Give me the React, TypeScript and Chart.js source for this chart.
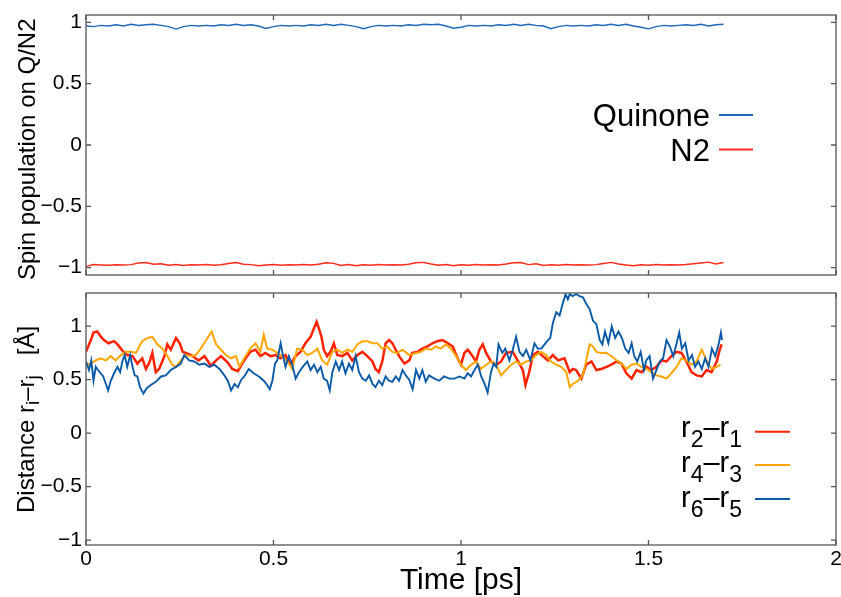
import React, { useEffect, useRef } from 'react';
import { Chart, registerables } from 'chart.js';
Chart.register(...registerables);

const FONT = '"Liberation Sans", Arial, Helvetica, sans-serif';

const xTicks = [0, 0.5, 1, 1.5, 2];
const spinTicks = [-1, -0.5, 0, 0.5, 1];
const distTicks = [-1, -0.5, 0, 0.5, 1];

// Top panel: spin population
const spinTime = [0, 0.02, 0.04, 0.06, 0.08, 0.1, 0.12, 0.14, 0.16, 0.18, 0.2, 0.22, 0.24, 0.26, 0.28, 0.3, 0.32, 0.34, 0.36, 0.38,
  0.4, 0.42, 0.44, 0.46, 0.48, 0.5, 0.52, 0.54, 0.56, 0.58, 0.6, 0.62, 0.64, 0.66, 0.68, 0.7, 0.72, 0.74, 0.76, 0.78,
  0.8, 0.82, 0.84, 0.86, 0.88, 0.9, 0.92, 0.94, 0.96, 0.98, 1.0, 1.02, 1.04, 1.06, 1.08, 1.1, 1.12, 1.14, 1.16, 1.18,
  1.2, 1.22, 1.24, 1.26, 1.28, 1.3, 1.32, 1.34, 1.36, 1.38, 1.4, 1.42, 1.44, 1.46, 1.48, 1.5, 1.52, 1.54, 1.56, 1.58,
  1.6, 1.62, 1.64, 1.66, 1.68, 1.7];
const quinone = [0.97, 0.965, 0.975, 0.97, 0.98, 0.97, 0.985, 0.975, 0.98, 0.985, 0.975, 0.965, 0.945, 0.965, 0.975, 0.97, 0.975, 0.97, 0.98, 0.975,
  0.985, 0.975, 0.98, 0.97, 0.95, 0.965, 0.975, 0.97, 0.975, 0.97, 0.98, 0.975, 0.985, 0.975, 0.985, 0.975, 0.965, 0.948, 0.965, 0.975,
  0.97, 0.975, 0.97, 0.98, 0.975, 0.985, 0.98, 0.985, 0.97, 0.952, 0.96, 0.975, 0.97, 0.975, 0.97, 0.98, 0.975, 0.985, 0.975, 0.985,
  0.975, 0.97, 0.948, 0.965, 0.975, 0.97, 0.975, 0.97, 0.98, 0.975, 0.985, 0.975, 0.985, 0.97, 0.96, 0.947, 0.965, 0.975, 0.97, 0.975,
  0.98, 0.975, 0.985, 0.97, 0.98, 0.985];
const n2 = [-0.99, -0.975, -0.978, -0.98, -0.976, -0.979, -0.975, -0.962, -0.958, -0.972, -0.968, -0.98, -0.975, -0.982, -0.976, -0.979, -0.975, -0.98, -0.976, -0.966,
  -0.958, -0.972, -0.975, -0.985, -0.978, -0.975, -0.98, -0.976, -0.979, -0.975, -0.978, -0.972, -0.96, -0.965, -0.982, -0.975, -0.985, -0.976, -0.98, -0.975,
  -0.979, -0.976, -0.978, -0.972, -0.96, -0.957, -0.97, -0.98, -0.974, -0.984, -0.976, -0.98, -0.975, -0.979, -0.976, -0.978, -0.97, -0.96, -0.958, -0.975,
  -0.968, -0.982, -0.976, -0.98, -0.975, -0.979, -0.976, -0.978, -0.975, -0.966, -0.957, -0.97, -0.978, -0.984, -0.976, -0.98, -0.975, -0.979, -0.976, -0.978,
  -0.974, -0.968, -0.962, -0.955, -0.97, -0.958];

// Bottom panel: distances
const r21Time = [0, 0.013, 0.02, 0.03, 0.04, 0.048, 0.06, 0.075, 0.084, 0.093, 0.1, 0.11, 0.124, 0.137, 0.15, 0.16, 0.17, 0.177, 0.186, 0.195, 0.209, 0.217, 0.226, 0.24, 0.25, 0.258, 0.266, 0.28, 0.3, 0.316, 0.333, 0.347, 0.36, 0.378, 0.39, 0.405, 0.418, 0.43,
  0.438, 0.452, 0.465, 0.478, 0.492, 0.505, 0.518, 0.532, 0.545, 0.559, 0.572, 0.585, 0.599, 0.608, 0.615, 0.621, 0.628, 0.634, 0.643, 0.652, 0.661, 0.67, 0.683, 0.697, 0.71, 0.724, 0.737, 0.75, 0.764, 0.772, 0.781, 0.79, 0.799, 0.808, 0.817, 0.826, 0.835, 0.849,
  0.862, 0.87, 0.884, 0.897, 0.91, 0.924, 0.937, 0.951, 0.965, 0.978, 0.991, 1.0, 1.009, 1.018, 1.031, 1.04, 1.049, 1.058, 1.067, 1.08, 1.094, 1.107, 1.12, 1.138, 1.151, 1.165, 1.172, 1.181, 1.192, 1.205, 1.218, 1.232, 1.245, 1.259, 1.276,
  1.29, 1.298, 1.307, 1.321, 1.334, 1.348, 1.361, 1.374, 1.388, 1.401, 1.415, 1.428, 1.441, 1.455, 1.468, 1.481, 1.495, 1.508, 1.521, 1.535, 1.548, 1.561, 1.575, 1.588, 1.601, 1.615, 1.628, 1.642, 1.655, 1.668, 1.682, 1.69, 1.695];
const r21 = [0.76, 0.87, 0.94, 0.95, 0.9, 0.87, 0.84, 0.86, 0.83, 0.79, 0.76, 0.73, 0.72, 0.65, 0.7, 0.6, 0.67, 0.75, 0.57, 0.6, 0.72, 0.83, 0.78, 0.89, 0.84, 0.76, 0.75, 0.73, 0.68, 0.72, 0.63, 0.68, 0.72, 0.66, 0.6, 0.58, 0.66, 0.72,
  0.76, 0.78, 0.72, 0.75, 0.72, 0.73, 0.7, 0.73, 0.64, 0.72, 0.76, 0.84, 0.9, 0.98, 1.04, 0.98, 0.9, 0.78, 0.72, 0.76, 0.84, 0.73, 0.72, 0.75, 0.68, 0.73, 0.76, 0.72, 0.67, 0.6, 0.57, 0.67, 0.84, 0.87, 0.84, 0.78, 0.72, 0.65,
  0.68, 0.75, 0.76, 0.79, 0.81, 0.84, 0.86, 0.87, 0.84, 0.81, 0.7, 0.64, 0.75, 0.78, 0.72, 0.67, 0.78, 0.83, 0.75, 0.67, 0.64, 0.67, 0.75, 0.76, 0.68, 0.59, 0.45, 0.56, 0.73, 0.76, 0.72, 0.68, 0.73, 0.68, 0.7,
  0.57, 0.6, 0.59, 0.51, 0.64, 0.67, 0.59, 0.6, 0.62, 0.64, 0.67, 0.65, 0.56, 0.51, 0.59, 0.57, 0.62, 0.59, 0.62, 0.68, 0.67, 0.72, 0.76, 0.75, 0.67, 0.57, 0.54, 0.53, 0.59, 0.57, 0.67, 0.78, 0.83];

const r43Time = [0, 0.013, 0.026, 0.039, 0.053, 0.066, 0.079, 0.093, 0.106, 0.12, 0.133, 0.142, 0.15, 0.164, 0.177, 0.19, 0.204, 0.217, 0.23, 0.24, 0.253, 0.266, 0.28, 0.293, 0.306, 0.315, 0.324, 0.335, 0.347, 0.36, 0.373, 0.387, 0.4, 0.409, 0.422,
  0.438, 0.452, 0.465, 0.474, 0.483, 0.497, 0.51, 0.523, 0.537, 0.55, 0.563, 0.577, 0.59, 0.603, 0.617, 0.63, 0.643, 0.657, 0.67, 0.683, 0.697, 0.71, 0.724, 0.737, 0.75, 0.764, 0.777, 0.79, 0.803, 0.817, 0.83, 0.844,
  0.862, 0.88, 0.893, 0.906, 0.92, 0.933, 0.946, 0.96, 0.973, 0.987, 1.0, 1.013, 1.027, 1.04, 1.053, 1.067, 1.08, 1.094, 1.107, 1.12, 1.134, 1.147, 1.16, 1.174, 1.187, 1.2, 1.214, 1.227, 1.24, 1.254, 1.267, 1.281,
  1.29, 1.298, 1.312, 1.325, 1.334, 1.343, 1.352, 1.361, 1.374, 1.388, 1.401, 1.415, 1.428, 1.441, 1.455, 1.468, 1.481, 1.495, 1.508, 1.521, 1.535, 1.548, 1.561, 1.575, 1.588, 1.601, 1.615, 1.628, 1.642, 1.655, 1.668, 1.682, 1.692];
const r43 = [0.64, 0.65, 0.68, 0.7, 0.68, 0.72, 0.68, 0.73, 0.76, 0.76, 0.75, 0.81, 0.86, 0.89, 0.9, 0.83, 0.79, 0.72, 0.64, 0.62, 0.68, 0.73, 0.72, 0.73, 0.79, 0.84, 0.89, 0.95, 0.83, 0.78, 0.73, 0.7, 0.72, 0.62, 0.7,
  0.79, 0.84, 0.76, 0.92, 0.79, 0.78, 0.75, 0.72, 0.67, 0.6, 0.79, 0.78, 0.73, 0.75, 0.79, 0.68, 0.64, 0.76, 0.78, 0.75, 0.78, 0.76, 0.83, 0.86, 0.86, 0.84, 0.84, 0.79, 0.81, 0.76, 0.75, 0.78,
  0.73, 0.75, 0.76, 0.79, 0.78, 0.81, 0.79, 0.83, 0.79, 0.72, 0.64, 0.59, 0.64, 0.67, 0.6, 0.64, 0.67, 0.64, 0.54, 0.59, 0.64, 0.67, 0.64, 0.67, 0.68, 0.73, 0.76, 0.73, 0.67, 0.64, 0.62, 0.57,
  0.43, 0.46, 0.49, 0.54, 0.68, 0.83, 0.81, 0.76, 0.75, 0.75, 0.72, 0.68, 0.65, 0.6, 0.64, 0.65, 0.62, 0.6, 0.57, 0.54, 0.53, 0.51, 0.56, 0.62, 0.7, 0.68, 0.64, 0.67, 0.78, 0.68, 0.6, 0.62, 0.64];

const r65Time = [0, 0.008, 0.014, 0.02, 0.026, 0.032, 0.039, 0.046, 0.053, 0.059, 0.066, 0.075, 0.084, 0.091, 0.097, 0.103, 0.11, 0.118, 0.124, 0.13, 0.137, 0.144, 0.153, 0.162, 0.173, 0.186, 0.2, 0.213, 0.226, 0.24, 0.253, 0.262, 0.275, 0.289, 0.302, 0.316, 0.329, 0.342, 0.356, 0.369, 0.378, 0.387, 0.396, 0.405, 0.414, 0.422,
  0.434, 0.447, 0.461, 0.474, 0.483, 0.49, 0.497, 0.504, 0.51, 0.519, 0.525, 0.532, 0.541, 0.55, 0.559, 0.568, 0.578, 0.59, 0.599, 0.608, 0.617, 0.626, 0.634, 0.643, 0.65, 0.657, 0.666, 0.675, 0.683, 0.692, 0.701, 0.71, 0.719, 0.728, 0.737, 0.746, 0.755, 0.764, 0.772, 0.781, 0.79, 0.799, 0.808, 0.817, 0.826, 0.835, 0.844, 0.853,
  0.862, 0.871, 0.88, 0.889, 0.897, 0.906, 0.915, 0.929, 0.942, 0.955, 0.969, 0.982, 0.996, 1.009, 1.018, 1.027, 1.036, 1.045, 1.054, 1.063, 1.071, 1.08, 1.087, 1.094, 1.1, 1.11, 1.118, 1.129, 1.138, 1.147, 1.156, 1.165, 1.174, 1.185, 1.196, 1.205, 1.214, 1.223, 1.232, 1.238, 1.245, 1.254, 1.263, 1.272, 1.279,
  1.285, 1.29, 1.298, 1.307, 1.316, 1.325, 1.334, 1.343, 1.352, 1.361, 1.37, 1.377, 1.384, 1.393, 1.402, 1.411, 1.42, 1.429, 1.438, 1.447, 1.455, 1.462, 1.47, 1.479, 1.488, 1.494, 1.503, 1.512, 1.521, 1.53, 1.539, 1.548, 1.557, 1.566, 1.575, 1.582, 1.589, 1.598, 1.607, 1.616, 1.624, 1.633, 1.642, 1.651, 1.66, 1.669, 1.678, 1.687, 1.693, 1.696];
const r65 = [0.67, 0.59, 0.68, 0.49, 0.62, 0.59, 0.56, 0.53, 0.46, 0.4, 0.49, 0.56, 0.62, 0.57, 0.67, 0.73, 0.62, 0.73, 0.62, 0.54, 0.53, 0.43, 0.37, 0.42, 0.45, 0.48, 0.53, 0.54, 0.59, 0.62, 0.65, 0.73, 0.68, 0.67, 0.64, 0.65, 0.62, 0.64, 0.6, 0.54, 0.49, 0.4, 0.46, 0.43, 0.5, 0.53,
  0.6, 0.56, 0.53, 0.49, 0.45, 0.41, 0.49, 0.65, 0.68, 0.84, 0.73, 0.62, 0.72, 0.64, 0.51, 0.57, 0.62, 0.67, 0.59, 0.64, 0.57, 0.62, 0.51, 0.49, 0.4, 0.57, 0.67, 0.59, 0.67, 0.56, 0.65, 0.59, 0.72, 0.57, 0.51, 0.49, 0.54, 0.46, 0.43, 0.49, 0.45, 0.53, 0.49, 0.48, 0.53, 0.49, 0.59, 0.54,
  0.5, 0.41, 0.59, 0.51, 0.59, 0.48, 0.54, 0.51, 0.49, 0.53, 0.51, 0.51, 0.53, 0.51, 0.56, 0.53, 0.59, 0.64, 0.53, 0.46, 0.38, 0.57, 0.65, 0.62, 0.83, 0.75, 0.79, 0.68, 0.78, 0.9, 0.76, 0.72, 0.78, 0.68, 0.84, 0.79, 0.79, 0.83, 0.87, 0.89, 1.03, 1.13, 1.1, 1.22, 1.3,
  1.25, 1.3, 1.28, 1.3, 1.28, 1.27, 1.21, 1.16, 1.05, 1.02, 0.87, 0.83, 0.95, 0.84, 1.0, 0.89, 0.95, 0.89, 0.79, 0.75, 0.84, 0.72, 0.67, 0.76, 0.59, 0.68, 0.72, 0.51, 0.59, 0.67, 0.7, 0.87, 0.81, 0.72, 0.84, 0.94, 0.79, 0.84, 0.68, 0.73, 0.62, 0.67, 0.6, 0.7, 0.62, 0.79, 0.72, 0.83, 0.94, 0.87];

const COL_Q = '#1f68b8';
const COL_N2 = '#ff2a1a';
const COL_R21 = '#ff2200';
const COL_R43 = '#ffa500';
const COL_R65 = '#0b5aa8';

type Seg = { t: string; s: number; dy: number };

function richWidth(ctx: CanvasRenderingContext2D, segs: Seg[]) {
  let w = 0;
  for (const g of segs) {
    ctx.font = `${g.s}px ${FONT}`;
    w += ctx.measureText(g.t).width;
  }
  return w;
}
function drawRich(ctx: CanvasRenderingContext2D, segs: Seg[], x: number, y: number) {
  let cx = x;
  ctx.textBaseline = 'alphabetic';
  ctx.textAlign = 'left';
  for (const g of segs) {
    ctx.font = `${g.s}px ${FONT}`;
    ctx.fillText(g.t, cx, y + g.dy);
    cx += ctx.measureText(g.t).width;
  }
}

const fmt = (v: any) => {
  const n = Number(v);
  return n < 0 ? '\u2212' + String(Math.abs(n)) : String(n);
};

function framePlugin(yTicks: number[]) {
  return {
    id: 'frame',
    afterDraw(chart: any) {
      const { ctx, chartArea: a, scales } = chart;
      ctx.save();
      ctx.strokeStyle = '#555';
      ctx.lineWidth = 1.3;
      ctx.strokeRect(a.left, a.top, a.right - a.left, a.bottom - a.top);
      ctx.beginPath();
      for (const v of xTicks) {
        const px = scales.x.getPixelForValue(v);
        ctx.moveTo(px, a.bottom); ctx.lineTo(px, a.bottom - 5);
        ctx.moveTo(px, a.top); ctx.lineTo(px, a.top + 5);
      }
      for (const v of yTicks) {
        const py = scales.y.getPixelForValue(v);
        ctx.moveTo(a.left, py); ctx.lineTo(a.left + 5, py);
        ctx.moveTo(a.right, py); ctx.lineTo(a.right - 5, py);
      }
      ctx.stroke();
      ctx.restore();
    },
  };
}

function baseOptions(yMin: number, yMax: number, yTicks: number[], padTop: number, xHeight: number, showX: boolean) {
  return {
    responsive: false,
    animation: false,
    devicePixelRatio: 1,
    layout: { padding: { left: 0, right: 5, top: padTop, bottom: 0 } },
    plugins: { legend: { display: false }, tooltip: { enabled: false } },
    elements: { point: { radius: 0 }, line: { tension: 0 } },
    scales: {
      x: {
        type: 'linear',
        min: 0,
        max: 2,
        grid: { display: false, drawTicks: false },
        border: { display: false },
        ticks: { display: showX, padding: 2, autoSkip: false, maxRotation: 0, color: '#000', font: { size: 21, family: FONT }, callback: fmt },
        afterBuildTicks: (s: any) => { s.ticks = xTicks.map((v) => ({ value: v })); },
        afterFit: (s: any) => { s.height = xHeight; s.paddingLeft = 0; s.paddingRight = 0; },
      },
      y: {
        type: 'linear',
        min: yMin,
        max: yMax,
        grid: { display: false, drawTicks: false },
        border: { display: false },
        ticks: { padding: 4, autoSkip: false, color: '#000', font: { size: 21, family: FONT }, callback: fmt },
        afterBuildTicks: (s: any) => { s.ticks = yTicks.map((v) => ({ value: v })); },
        afterFit: (s: any) => { s.width = 86; s.paddingTop = 0; s.paddingBottom = 0; },
      },
    },
  };
}

export default function App() {
  const topRef = useRef<HTMLCanvasElement>(null);
  const botRef = useRef<HTMLCanvasElement>(null);

  useEffect(() => {
    const topDecor = {
      id: 'topDecor',
      afterDraw(chart: any) {
        const ctx = chart.ctx as CanvasRenderingContext2D;
        ctx.save();
        ctx.fillStyle = '#000';
        ctx.translate(35, 280);
        ctx.rotate(-Math.PI / 2);
        drawRich(ctx, [{ t: 'Spin population on Q/N2', s: 24, dy: 0 }], 0, 0);
        ctx.restore();
        ctx.save();
        const items = [
          { label: 'Quinone', color: chart.data.datasets[0].borderColor, base: 126, ly: 115 },
          { label: 'N2', color: chart.data.datasets[1].borderColor, base: 161, ly: 149.5 },
        ];
        for (const it of items) {
          ctx.fillStyle = '#000';
          ctx.font = `31px ${FONT}`;
          ctx.textAlign = 'right';
          ctx.textBaseline = 'alphabetic';
          ctx.fillText(it.label, 710, it.base);
          ctx.strokeStyle = it.color;
          ctx.lineWidth = 2;
          ctx.beginPath();
          ctx.moveTo(719, it.ly);
          ctx.lineTo(753, it.ly);
          ctx.stroke();
        }
        ctx.restore();
      },
    };

    const top = new Chart(topRef.current as HTMLCanvasElement, {
      type: 'line',
      data: {
        datasets: [
          { label: 'Quinone', data: spinTime.map((t, i) => ({ x: t, y: quinone[i] })), borderColor: COL_Q, borderWidth: 1.4, pointRadius: 0 },
          { label: 'N2', data: spinTime.map((t, i) => ({ x: t, y: n2[i] })), borderColor: COL_N2, borderWidth: 1.4, pointRadius: 0 },
        ],
      },
      options: baseOptions(-1.06, 1.06, spinTicks, 15, 10, false) as any,
      plugins: [framePlugin(spinTicks), topDecor],
    });

    const botDecor = {
      id: 'botDecor',
      afterDraw(chart: any) {
        const ctx = chart.ctx as CanvasRenderingContext2D;
        ctx.save();
        ctx.fillStyle = '#000';
        ctx.translate(34, 228);
        ctx.rotate(-Math.PI / 2);
        drawRich(ctx, [
          { t: 'Distance r', s: 24, dy: 0 },
          { t: 'i', s: 19, dy: 5 },
          { t: '\u2013r', s: 24, dy: 0 },
          { t: 'j', s: 19, dy: 5 },
          { t: '   [\u00c5]', s: 24, dy: 0 },
        ], 0, 0);
        ctx.restore();

        ctx.save();
        ctx.fillStyle = '#000';
        ctx.font = `30px ${FONT}`;
        ctx.textAlign = 'center';
        ctx.textBaseline = 'alphabetic';
        const a = chart.chartArea;
        ctx.fillText('Time [ps]', (a.left + a.right) / 2, 589 - 285);
        ctx.restore();

        ctx.save();
        const ds = chart.data.datasets;
        const items = [
          { segs: [{ t: 'r', s: 29, dy: 0 }, { t: '2', s: 23, dy: 10 }, { t: '\u2013r', s: 29, dy: 0 }, { t: '1', s: 23, dy: 10 }], color: ds[2].borderColor, base: 436.7 - 285, ly: 431.7 - 285 },
          { segs: [{ t: 'r', s: 29, dy: 0 }, { t: '4', s: 23, dy: 10 }, { t: '\u2013r', s: 29, dy: 0 }, { t: '3', s: 23, dy: 10 }], color: ds[1].borderColor, base: 471.7 - 285, ly: 465 - 285 },
          { segs: [{ t: 'r', s: 29, dy: 0 }, { t: '6', s: 23, dy: 10 }, { t: '\u2013r', s: 29, dy: 0 }, { t: '5', s: 23, dy: 10 }], color: ds[0].borderColor, base: 506.7 - 285, ly: 499 - 285 },
        ];
        for (const it of items) {
          ctx.fillStyle = '#000';
          const w = richWidth(ctx, it.segs);
          drawRich(ctx, it.segs, 742 - w, it.base);
          ctx.strokeStyle = it.color;
          ctx.lineWidth = 2;
          ctx.beginPath();
          ctx.moveTo(755, it.ly);
          ctx.lineTo(790, it.ly);
          ctx.stroke();
        }
        ctx.restore();
      },
    };

    const bot = new Chart(botRef.current as HTMLCanvasElement, {
      type: 'line',
      data: {
        datasets: [
          { label: 'r6-r5', data: r65Time.map((t, i) => ({ x: t, y: r65[i] })), borderColor: COL_R65, borderWidth: 1.9, pointRadius: 0 },
          { label: 'r4-r3', data: r43Time.map((t, i) => ({ x: t, y: r43[i] })), borderColor: COL_R43, borderWidth: 2, pointRadius: 0 },
          { label: 'r2-r1', data: r21Time.map((t, i) => ({ x: t, y: r21[i] })), borderColor: COL_R21, borderWidth: 2.5, pointRadius: 0 },
        ],
      },
      options: baseOptions(-1.045, 1.31, distTicks, 8, 52, true) as any,
      plugins: [framePlugin(distTicks), botDecor],
    });

    return () => {
      top.destroy();
      bot.destroy();
    };
  }, []);

  return (
    <div style={{ position: 'absolute', left: 0, top: 0, width: 841, height: 597, background: '#fff' }}>
      <canvas ref={topRef} width={841} height={285} style={{ position: 'absolute', left: 0, top: 0, width: 841, height: 285 }} />
      <canvas ref={botRef} width={841} height={312} style={{ position: 'absolute', left: 0, top: 285, width: 841, height: 312 }} />
    </div>
  );
}
